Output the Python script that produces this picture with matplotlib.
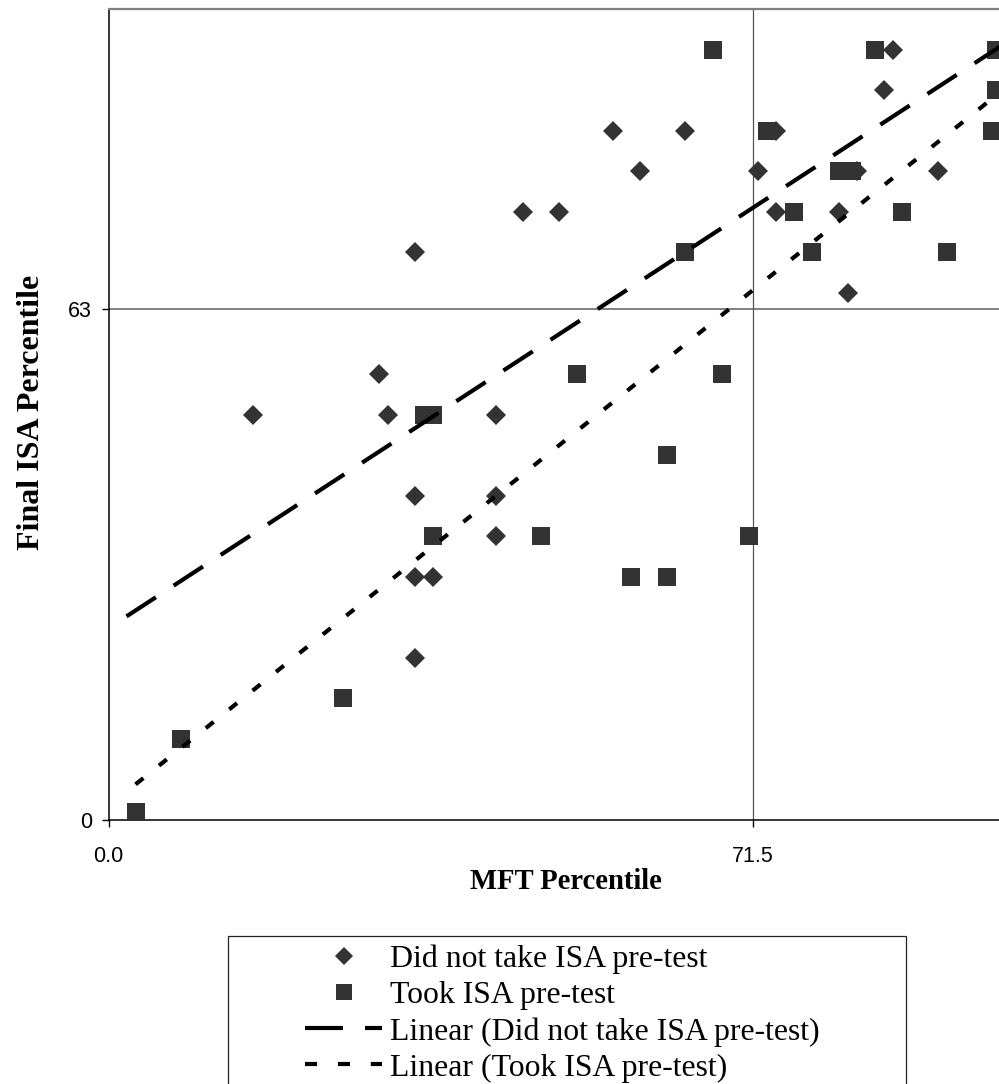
import numpy as np
import matplotlib
matplotlib.use("Agg")
import matplotlib.pyplot as plt
from matplotlib.lines import Line2D
from matplotlib.patches import Rectangle

# ---------------- data ----------------
no_pre_x = [16, 30, 31, 34, 34, 34, 34, 36, 43, 43, 43, 46, 50, 56, 59, 64,
            72, 74, 74, 81, 82, 83, 86, 87, 92]
no_pre_y = [50, 55, 50, 70, 40, 30, 20, 30, 50, 40, 35, 75, 75, 85, 80, 85,
            80, 85, 75, 75, 65, 80, 90, 95, 80]

took_x = [3, 8, 26, 35, 36, 36, 48, 52, 58, 62, 62, 64, 67, 68, 71, 73, 76,
          78, 81, 82.5, 85, 88, 93, 98, 98.5, 98.5]
took_y = [1, 10, 15, 50, 50, 35, 35, 55, 30, 45, 30, 70, 95, 55, 35, 85, 75,
          70, 80, 80, 95, 75, 70, 85, 90, 95]

x_ticks = [0, 71.5]
x_tick_labels = ["0.0", "71.5"]
y_ticks = [0, 63]
y_tick_labels = ["0", "63"]

series_labels = ["Did not take ISA pre-test", "Took ISA pre-test",
                 "Linear (Did not take ISA pre-test)", "Linear (Took ISA pre-test)"]
x_label = "MFT Percentile"
y_label = "Final ISA Percentile"

# trend line start points (x)
no_pre_trend_start = 2
took_trend_start = 3

# ---------------- figure ----------------
W, H = 999, 1084
fig = plt.figure(figsize=(W / 100, H / 100), dpi=100)

ax_left, ax_right, ax_top, ax_bottom = 108.5, 1010, 9, 820
ax = fig.add_axes([ax_left / W, 1 - ax_bottom / H,
                   (ax_right - ax_left) / W, (ax_bottom - ax_top) / H])
ax.set_xlim(0, 100)
ax.set_ylim(0, 100)

mcol = "#333333"
ax.plot(no_pre_x, no_pre_y, linestyle="none", marker="D", markersize=9.8,
        color=mcol, markeredgewidth=0, zorder=4, clip_on=True)
ax.plot(took_x, took_y, linestyle="none", marker="s", markersize=12.6,
        color=mcol, markeredgewidth=0, zorder=4, clip_on=True)

# linear trend lines
b1 = np.polyfit(no_pre_x, no_pre_y, 1)
b2 = np.polyfit(took_x, took_y, 1)
xs1 = np.array([no_pre_trend_start, 100])
xs2 = np.array([took_trend_start, 100])
dash_long = (0, (8.4, 5.1))
dash_short = (0, (2.4, 4.8))
ax.plot(xs1, np.polyval(b1, xs1), color="black", lw=3,
        linestyle=dash_long, dash_capstyle="butt", zorder=5)
ax.plot(xs2, np.polyval(b2, xs2), color="black", lw=3,
        linestyle=dash_short, dash_capstyle="butt", zorder=5)

# ticks and grid
ax.set_xticks(x_ticks)
ax.set_xticklabels(x_tick_labels, fontfamily="Liberation Sans", fontsize=15.5)
ax.set_yticks(y_ticks)
ax.set_yticklabels(y_tick_labels, fontfamily="Liberation Sans", fontsize=15.5)
ax.tick_params(axis="both", direction="out", length=5, width=1, color="black")
ax.tick_params(axis="x", pad=14)
ax.tick_params(axis="y", pad=7)

ax.axhline(63, color="#808080", lw=1.4, zorder=1)
ax.axvline(71.5, color="#555555", lw=0.9, zorder=1)

for s in ["left", "bottom"]:
    ax.spines[s].set_color("black")
    ax.spines[s].set_linewidth(1.1)
ax.spines["top"].set_color("#808080")
ax.spines["top"].set_linewidth(1.6)
ax.spines["right"].set_visible(False)

ax.set_xlabel(x_label, fontfamily="Liberation Serif", fontweight="bold",
              fontsize=20.6)
ax.xaxis.set_label_coords((566 - ax_left) / (ax_right - ax_left),
                          (ax_bottom - 868) / (ax_bottom - ax_top))
ax.xaxis.label.set_va("top")
ax.set_ylabel(y_label, fontfamily="Liberation Serif", fontweight="bold",
              fontsize=23)
ax.yaxis.set_label_coords((32 - ax_left) / (ax_right - ax_left),
                          (ax_bottom - 412) / (ax_bottom - ax_top))
ax.yaxis.label.set_va("center")

# legend frame
fig.patches.append(Rectangle((228 / W, 1 - 1100 / H), (906 - 228) / W,
                             (1100 - 936) / H, transform=fig.transFigure,
                             facecolor="white", edgecolor="#222222", lw=0.9))

handles = [
    Line2D([], [], linestyle="none", marker="D", markersize=9.0, color=mcol,
           markeredgewidth=0),
    Line2D([], [], linestyle="none", marker="s", markersize=12.2, color=mcol,
           markeredgewidth=0),
    Line2D([], [], color="black", lw=3, linestyle=(0, (9.1, 5.3)),
           dash_capstyle="butt"),
    Line2D([], [], color="black", lw=3, linestyle=(0, (2.9, 5.0)),
           dash_capstyle="butt"),
]
fs = 22.9
fs_px = fs * 100 / 72
leg = fig.legend(handles, series_labels, loc="upper left",
                 bbox_to_anchor=(305 / W, 1 - 945 / H),
                 frameon=False, prop={"family": "Liberation Serif", "size": fs},
                 handlelength=77 / fs_px, handletextpad=8 / fs_px,
                 borderpad=0, borderaxespad=0, labelspacing=0.21)

fig.savefig("out.png", dpi=100)
